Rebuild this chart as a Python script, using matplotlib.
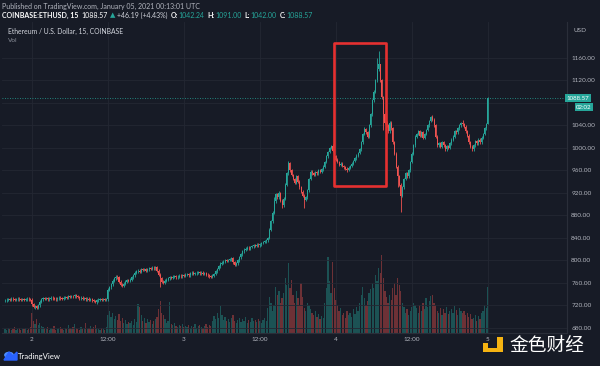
import matplotlib
matplotlib.use('Agg')
import matplotlib.pyplot as plt
import numpy as np
import matplotlib.transforms as mtransforms
from matplotlib.patches import Rectangle, Circle, Polygon

# ---------------- data (15-min ETHUSD candles, Jan 1 19:45 -> Jan 5 00:00 UTC) -------------
closes = [
    729, 730, 731, 730, 732, 731, 730, 731, 732, 731, 730, 731, 730, 731, 732, 731, 730,
    722, 717, 719, 716, 720,
    727, 731, 733,
    732, 733, 731, 732, 734, 733, 732, 731, 733, 734, 733, 732, 734, 735, 734, 736, 735, 737, 736,
    738, 736, 735, 733, 734, 732, 733, 731, 732, 730, 731, 729, 728,
    726, 729, 730, 731, 730, 731, 730, 731,
    748, 752, 758, 764, 768, 771, 770,
    762, 757, 755, 759, 762, 765, 764,
    766, 770, 774, 778, 781,
    782, 780, 784, 783, 785, 782, 784, 786, 785, 787, 786, 788,
    782, 775, 768, 762, 760,
    764, 766, 768, 770, 769, 771, 772, 770, 771, 773, 772, 774, 773,
    775, 776, 774, 777, 778, 776, 777, 778, 779, 777, 778, 776, 777, 775, 774, 772, 771,
    773, 776, 781, 785, 790, 794, 796, 798, 800, 799, 801, 802, 804,
    797, 792, 795,
    800, 806, 811, 816, 819, 821, 823, 822, 824, 825, 827,
    826, 828, 827, 829, 831, 833, 834, 836,
    840, 855, 870, 885, 905,
    918, 912, 920, 906, 898,
    910, 935, 955,
    973,
    960, 952, 945, 938, 950, 940,
    930, 922, 915, 908, 912,
    925, 945, 958,
    955, 952, 957, 955, 960, 958, 962, 967,
    975, 985, 993, 1000, 1004,
    995, 985, 979,
    975, 970, 972, 968, 966, 963,
    961,
    965, 968, 972, 977, 982, 986, 991,
    998, 1010, 1025, 1033, 1028,
    1020, 1040, 1060,
    1085, 1100, 1120, 1140,
    1150,
    1120, 1090, 1060,
    1045, 1040, 1030, 1045, 1035,
    1010, 990, 967, 950, 935,
    915,
    930, 945, 955, 950, 960,
    975, 990, 1005, 1020,
    1025, 1030, 1022, 1028, 1018, 1025, 1032, 1040, 1048, 1055,
    1050,
    1040, 1020,
    1005, 1008, 1002, 1010, 1005, 998, 1003, 1000, 1008,
    1015, 1020, 1030, 1028, 1035, 1040, 1044,
    1042,
    1038, 1030, 1022, 1010, 1002, 998,
    1005, 1012, 1008, 1015, 1010, 1018,
    1025, 1035, 1042.24,
    1088.57,
]
first_open = 729
# notable wick extremes (bar index -> price)
wick_highs = {75: 762, 96: 790, 143: 806, 170: 912, 173: 924, 179: 976, 206: 1006,
              227: 1038, 235: 1160, 236: 1172, 237: 1150, 270: 1059, 289: 1050, 305: 1091.0}
wick_lows = {18: 715, 20: 714, 57: 724, 98: 753, 189: 893, 175: 894, 216: 958,
             239: 1032, 248: 930, 250: 887, 305: 1042.0}
default_wick = 2.5

volumes = [
    4, 3, 5, 4, 3, 4, 6, 3, 4, 5, 3, 4, 4, 5, 3, 4, 6,
    20, 12, 9, 14, 8,
    10, 7, 6,
    5, 4, 6, 3, 5, 4, 7, 3, 4, 5, 6, 4, 3, 5, 4, 8, 5, 4, 6,
    9, 5, 4, 3, 6, 4, 5, 10, 4, 5, 7, 4, 6,
    8, 5, 4, 3, 5, 4, 3, 6,
    18, 22, 16, 20, 14, 17, 13,
    19, 12, 15, 10, 13, 9, 11,
    10, 12, 8, 14, 11,
    29, 26, 18, 12, 15, 10, 14, 11, 13, 9, 12, 14,
    16, 24, 32, 20, 18,
    14, 10, 12, 31, 9, 8, 10, 7, 6, 8, 7, 9, 6,
    7, 6, 8, 5, 7, 6, 9, 5, 7, 8, 6, 5, 7, 9, 6, 8, 7,
    12, 17, 14, 20, 15, 27, 18, 13, 16, 12, 14, 11, 15,
    18, 12, 10,
    13, 15, 11, 14, 12, 16, 10, 13, 11, 15, 12,
    13, 11, 14, 12, 10, 13, 15, 12,
    25, 36, 30, 22, 28,
    46, 38, 42, 30, 35,
    40, 55, 48,
    70,
    45, 53, 38, 30, 42, 35,
    28, 50, 36, 25, 22,
    30, 28, 24,
    20, 18, 22, 16, 19, 14, 17, 15,
    30, 45, 76, 52, 40,
    71, 45, 33,
    28, 22, 25, 18, 20, 15,
    22,
    18, 20, 16, 24, 19, 26, 22,
    30, 38, 46, 35, 28,
    32, 40, 44,
    50, 45, 58, 52,
    65,
    60, 78, 55,
    42, 36, 30, 38, 33,
    45, 50, 38, 55, 48,
    42,
    30, 26, 20, 24, 18,
    22, 26, 30, 28,
    25, 20, 28, 22, 30, 24, 35, 26, 32, 37,
    38,
    30, 28,
    22, 20, 25, 18, 24, 20, 26, 19, 22,
    24, 20, 27, 23, 18, 25, 22,
    20,
    22, 18, 20, 16, 19, 14,
    15, 18, 12, 17, 14, 20,
    22, 28, 25,
    46,
]

time_tick_bars = [17, 65, 113, 161, 209, 257, 305]
time_tick_labels = ['2', '12:00', '3', '12:00', '4', '12:00', '5']
price_ticks = [680, 720, 760, 800, 840, 880, 920, 960, 1000, 1040, 1080, 1120, 1160]
hidden_price_labels = [1080]   # covered by the last-price tags in the reference
last_price = 1088.57
highlight_bars = (207.8, 240.7)
highlight_prices = (932, 1187)

# ---------------- style ----------------
BG = '#171b26'
GRID = '#232733'
UP = '#26a69a'
DOWN = '#ef5350'
TXT = '#b2b5be'
W, H = 600, 366
FONT = ['Lato', 'DejaVu Sans']

fig = plt.figure(figsize=(W / 100, H / 100), dpi=100)
fig.patch.set_facecolor(BG)

def fx(px):
    return px / W

def fy(py):
    return 1 - py / H

ax = fig.add_axes([fx(2), fy(333), 565 / W, (333 - 22) / H])
ax2 = ax.twinx()
ax.set_zorder(2)
ax2.set_zorder(1)
ax.patch.set_visible(False)
ax2.axis('off')

n = len(closes)
idx = np.arange(n)
c = np.array(closes, dtype=float)
o = np.concatenate([[first_open], c[:-1]])
hi = np.maximum(o, c) + default_wick
lo = np.minimum(o, c) - default_wick
for k, v in wick_highs.items():
    hi[k] = max(v, max(o[k], c[k]))
for k, v in wick_lows.items():
    lo[k] = min(v, min(o[k], c[k]))
up = c >= o
cols = np.where(up, UP, DOWN)

# volume
vol = np.array(volumes, dtype=float)
ax2.bar(idx, vol, width=0.8, color=cols, alpha=0.4, linewidth=0)
ax2.set_ylim(0, 311)

# candles
ax.vlines(idx, lo, hi, colors=cols, linewidth=0.6)
body_lo = np.minimum(o, c)
body_h = np.maximum(np.abs(c - o), 0.6)
ax.bar(idx, body_h, bottom=body_lo, width=0.65, color=cols, linewidth=0)

ax.set_xlim(-1.9, 355)
ax2.set_xlim(-1.9, 355)
ax.set_ylim(671.1, 1224)

# grid / axes
ax.set_xticks(time_tick_bars)
ax.set_xticklabels(time_tick_labels)
ax.set_yticks(price_ticks)
ax.set_yticklabels(['' if p in hidden_price_labels else f'{p:.2f}' for p in price_ticks])
ax.yaxis.tick_right()
ax.tick_params(axis='both', length=0, labelsize=4.6, labelcolor=TXT)
ax.tick_params(axis='y', pad=3)
ax.tick_params(axis='x', pad=3)
for lab in ax.get_xticklabels() + ax.get_yticklabels():
    lab.set_family(FONT)
ax.grid(True, color=GRID, linewidth=0.6)
ax.set_axisbelow(True)
for s in ['top', 'left']:
    ax.spines[s].set_visible(False)
for s in ['right', 'bottom']:
    ax.spines[s].set_color('#2a2e39')
    ax.spines[s].set_linewidth(0.8)

# last price line and tags
ax.axhline(last_price, color=UP, linestyle=(0, (1, 2)), linewidth=0.6)
bt = mtransforms.blended_transform_factory(ax.transAxes, ax.transData)
ax.text(0.9995, last_price, f'{last_price:.2f}', transform=bt, ha='left', va='center',
        fontsize=4.4, color='white', family=FONT, clip_on=False,
        bbox=dict(boxstyle='square,pad=0.25', fc=UP, ec='none'))
ax.annotate('02:02', xy=(1.0, last_price), xycoords=bt, xytext=(6.5, -6.6),
            textcoords='offset points', ha='left', va='center', fontsize=4.4,
            color='white', family=FONT, annotation_clip=False,
            bbox=dict(boxstyle='square,pad=0.25', fc=UP, ec='none'))

# highlight box
ax.add_patch(Rectangle((highlight_bars[0], highlight_prices[0]),
                       highlight_bars[1] - highlight_bars[0],
                       highlight_prices[1] - highlight_prices[0],
                       fill=False, edgecolor='#e53030', linewidth=1.9,
                       joinstyle='round', zorder=5))

# texts inside pane
fig.text(fx(8), fy(31), 'Ethereum / U.S. Dollar, 15, COINBASE', color='#d1d4dc',
         fontsize=4.9, family=FONT, va='center', ha='left')
fig.text(fx(8), fy(40), 'Vol', color='#8a8e99', fontsize=4.6, family=FONT,
         va='center', ha='left')
fig.text(fx(580), fy(30), 'USD', color=TXT, fontsize=4.6, family=FONT,
         va='center', ha='center')

# header
fig.text(fx(2), fy(6), 'Published on TradingView.com, January 05, 2021 00:13:01 UTC',
         color=TXT, fontsize=5.0, family=FONT, va='center', ha='left')
renderer = fig.canvas.get_renderer()
pieces = [
    ('COINBASE:ETHUSD, 15', 'white', 'bold'),
    ('1088.57', 'white', 'normal'),
    ('▲', UP, 'normal'),
    ('+46.19 (+4.43%)', '#d1d4dc', 'normal'),
    ('O:', 'white', 'bold'),
    ('1042.24', UP, 'normal'),
    ('H:', 'white', 'bold'),
    ('1091.00', UP, 'normal'),
    ('L:', 'white', 'bold'),
    ('1042.00', UP, 'normal'),
    ('C:', 'white', 'bold'),
    ('1088.57', UP, 'normal'),
]
gaps = [3, 2, 2, 3, 0.5, 3, 0.5, 3, 0.5, 3, 0.5, 0]
xpos = 2
for (s, col, wgt), g in zip(pieces, gaps):
    t = fig.text(fx(xpos), fy(15), s, color=col, fontsize=5.0, fontweight=wgt,
                 family=FONT, va='center', ha='left')
    bb = t.get_window_extent(renderer=renderer)
    xpos = bb.x1 + g

# TradingView logo bottom-left
blue = '#2962ff'
fig.add_artist(Circle((fx(9), fy(355)), 4.2 / W, transform=fig.transFigure, color='#4c8dff'))
fig.add_artist(Polygon([[fx(4), fy(360)], [fx(9), fy(352)], [fx(13), fy(356)],
                        [fx(17), fy(352)], [fx(17), fy(360)]],
                       closed=True, transform=fig.transFigure, color=blue))
fig.text(fx(18), fy(356), 'TradingView', color='white', fontsize=5.6, family=FONT,
         va='center', ha='left')

# 金色财经 watermark
yellow = '#f5b312'
for (x0, y0, x1, y1) in [(483, 343, 488, 348), (497, 337, 503, 352), (483, 348, 503, 352)]:
    fig.add_artist(Rectangle((fx(x0), fy(y1)), (x1 - x0) / W, (y1 - y0) / H,
                             transform=fig.transFigure, color=yellow, linewidth=0))
fig.text(fx(509), fy(345), '金色财经', color='white', fontsize=13.5,
         family=['Noto Sans CJK SC', 'DejaVu Sans'], va='center', ha='left')

fig.savefig('out.png', dpi=100, facecolor=BG)
